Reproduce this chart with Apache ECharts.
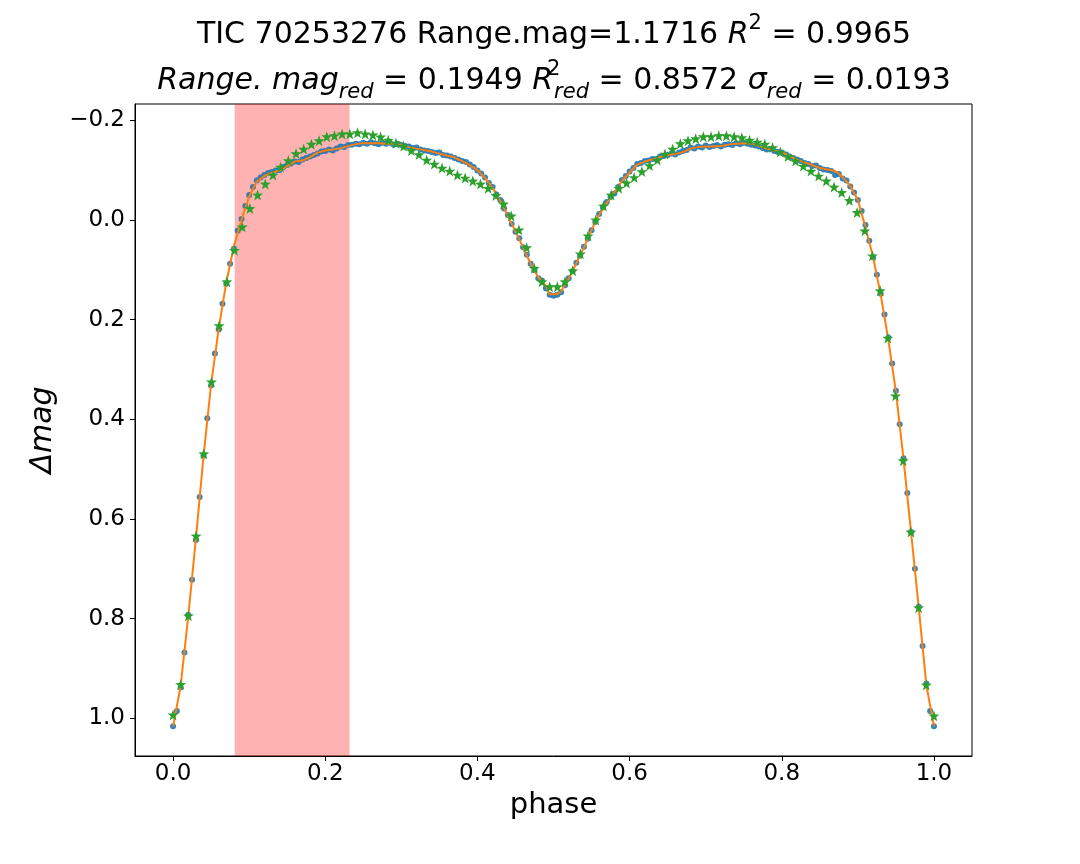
<!DOCTYPE html>
<html><head><meta charset="utf-8">
<script src="https://cdn.jsdelivr.net/npm/echarts@6/dist/echarts.min.js"></script>
<style>html,body{margin:0;padding:0;background:#fff}#c{width:1080px;height:864px}</style>
</head><body><div id="c"></div>
<script>
// ---- data ----
const xTicks = [0.0, 0.2, 0.4, 0.6, 0.8, 1.0];
const yTicks = [-0.2, 0.0, 0.2, 0.4, 0.6, 0.8, 1.0];
const bandPhase = [0.081, 0.232];

// observed points (blue), phase step 0.005
const obsPhase = [];
for (let i = 0; i <= 200; i++) obsPhase.push(+(i * 0.005).toFixed(3));
const obsMag = [
 1.016,0.985,0.938,0.868,0.792,0.722,0.642,0.556,0.473,0.398,
 0.332,0.268,0.220,0.168,0.128,0.088,0.058,0.022,-0.002,-0.028,
 -0.050,-0.066,-0.079,-0.085,-0.090,-0.094,-0.096,-0.099,-0.100,-0.106,
 -0.110,-0.113,-0.117,-0.116,-0.121,-0.124,-0.127,-0.130,-0.133,-0.137,
 -0.138,-0.141,-0.139,-0.143,-0.147,-0.146,-0.150,-0.151,-0.153,-0.152,
 -0.155,-0.153,-0.156,-0.154,-0.152,-0.155,-0.153,-0.155,-0.151,-0.153,
 -0.150,-0.148,-0.147,-0.144,-0.145,-0.141,-0.139,-0.138,-0.136,-0.134,
 -0.135,-0.130,-0.129,-0.127,-0.124,-0.121,-0.118,-0.116,-0.111,-0.106,
 -0.099,-0.093,-0.085,-0.074,-0.066,-0.051,-0.040,-0.023,-0.010,0.008,
 0.024,0.037,0.055,0.070,0.088,0.101,0.117,0.122,0.137,0.150,
 0.152,0.150,0.145,0.131,0.117,0.103,0.086,0.072,0.054,0.038,
 0.021,0.004,-0.012,-0.025,-0.036,-0.046,-0.053,-0.066,-0.080,-0.088,
 -0.097,-0.104,-0.112,-0.114,-0.118,-0.119,-0.122,-0.122,-0.127,-0.128,
 -0.130,-0.133,-0.131,-0.135,-0.138,-0.140,-0.145,-0.143,-0.147,-0.145,
 -0.149,-0.146,-0.148,-0.150,-0.147,-0.151,-0.152,-0.150,-0.154,-0.152,
 -0.155,-0.153,-0.151,-0.149,-0.147,-0.144,-0.141,-0.142,-0.138,-0.136,
 -0.135,-0.131,-0.127,-0.124,-0.121,-0.118,-0.114,-0.112,-0.108,-0.109,
 -0.104,-0.101,-0.100,-0.098,-0.090,-0.092,-0.083,-0.079,-0.067,-0.055,
 -0.040,-0.018,0.010,0.042,0.075,0.110,0.148,0.190,0.236,0.288,
 0.343,0.410,0.478,0.548,0.626,0.700,0.776,0.855,0.930,0.985,
 1.016
];

// fitted curve (orange)
const fitPhase = [
 0.00,0.01,0.02,0.03,0.04,0.05,0.06,0.07,0.08,0.09,
 0.10,0.11,0.12,0.13,0.14,0.15,0.16,0.17,0.18,0.19,
 0.20,0.21,0.22,0.23,0.24,0.25,0.26,0.27,0.28,0.29,
 0.30,0.31,0.32,0.33,0.34,0.35,0.36,0.37,0.38,0.39,
 0.40,0.41,0.42,0.43,0.44,0.45,0.46,0.47,0.48,0.49,
 0.495,0.505,0.51,0.52,0.53,0.54,0.55,0.56,0.57,0.58,
 0.59,0.60,0.61,0.62,0.63,0.64,0.65,0.66,0.67,0.68,
 0.69,0.70,0.71,0.72,0.73,0.74,0.75,0.76,0.77,0.78,
 0.79,0.80,0.81,0.82,0.83,0.84,0.85,0.86,0.87,0.88,
 0.89,0.90,0.91,0.92,0.93,0.94,0.95,0.96,0.97,0.98,
 0.99,1.00
];
const fitMag = [
 1.016,0.935,0.795,0.640,0.475,0.330,0.218,0.125,0.053,0.000,
 -0.047,-0.077,-0.088,-0.095,-0.099,-0.108,-0.117,-0.119,-0.126,-0.135,
 -0.139,-0.141,-0.144,-0.148,-0.152,-0.154,-0.154,-0.154,-0.153,-0.153,
 -0.151,-0.146,-0.143,-0.140,-0.137,-0.133,-0.129,-0.125,-0.118,-0.110,
 -0.100,-0.084,-0.064,-0.038,-0.008,0.023,0.055,0.088,0.115,0.132,
 0.149,0.149,0.143,0.118,0.087,0.055,0.020,-0.010,-0.034,-0.055,
 -0.078,-0.095,-0.111,-0.117,-0.121,-0.126,-0.130,-0.132,-0.136,-0.143,
 -0.146,-0.147,-0.147,-0.148,-0.151,-0.153,-0.154,-0.153,-0.148,-0.143,
 -0.139,-0.136,-0.128,-0.121,-0.115,-0.110,-0.104,-0.101,-0.098,-0.086,
 -0.068,-0.040,0.015,0.075,0.150,0.240,0.345,0.480,0.628,0.778,
 0.933,1.016
];

// reduced model (green stars), phase = k/99
const redMag = [
 0.993,0.932,0.794,0.634,0.469,0.325,0.212,0.124,0.061,0.014,
 -0.023,-0.050,-0.072,-0.090,-0.106,-0.119,-0.133,-0.142,-0.152,-0.159,
 -0.167,-0.169,-0.1725,-0.1725,-0.175,-0.1725,-0.1705,-0.1665,-0.160,-0.154,
 -0.148,-0.139,-0.131,-0.120,-0.112,-0.104,-0.098,-0.090,-0.084,-0.078,
 -0.072,-0.0635,-0.049,-0.032,-0.008,0.020,0.0555,0.097,0.124,0.134,
 0.134,0.124,0.102,0.068,0.032,0.000,-0.028,-0.050,-0.0635,-0.074,
 -0.085,-0.097,-0.109,-0.120,-0.132,-0.142,-0.153,-0.159,-0.163,-0.167,
 -0.167,-0.169,-0.169,-0.167,-0.165,-0.160,-0.156,-0.152,-0.145,-0.136,
 -0.127,-0.118,-0.108,-0.098,-0.088,-0.078,-0.066,-0.055,-0.039,-0.015,
 0.022,0.072,0.142,0.237,0.353,0.483,0.626,0.778,0.933,0.995
];
const redPhase = redMag.map((_, k) => k / 99);

// ---- chart ----
const FONT = 'DejaVu Sans';
const obsData = obsPhase.map((p, i) => [p, obsMag[i]]);
const fitData = fitPhase.map((p, i) => [p, fitMag[i]]);
const redData = redPhase.map((p, i) => [p, redMag[i]]);
const star = 'path://M0,-10 L2.35,-3.24 L9.51,-3.09 L3.8,1.24 L5.88,8.09 L0,4 L-5.88,8.09 L-3.8,1.24 L-9.51,-3.09 L-2.35,-3.24 Z';

const base = {fontFamily: FONT, fontSize: 30, fontWeight: 'normal', color: '#000', lineHeight: 44};
const rich = {
  n: Object.assign({}, base),
  i: Object.assign({}, base, {fontStyle: 'italic'}),
  sup: {fontFamily: FONT, fontSize: 21, fontWeight: 'normal', color: '#000', lineHeight: 24, verticalAlign: 'top'},
  sup0: {fontFamily: FONT, fontSize: 21, fontWeight: 'normal', color: '#000', lineHeight: 12, verticalAlign: 'top', width: 1},
  sub: {fontFamily: FONT, fontSize: 21, fontWeight: 'normal', color: '#000', lineHeight: 24, verticalAlign: 'bottom', fontStyle: 'italic'}
};
const fmt = v => (v < 0 ? '\u2212' : '') + Math.abs(v).toFixed(1);

const chart = echarts.init(document.getElementById('c'), null, {renderer: 'canvas'});
chart.setOption({
  backgroundColor: '#fff',
  animation: false,
  title: [
    {text: '{n|TIC 70253276 Range.mag=1.1716 }{i|R}{sup|2}{n| = 0.9965}',
     left: 554, top: 13, textAlign: 'center', padding: 0,
     textStyle: {fontWeight: 'normal', fontFamily: FONT, fontSize: 30, rich}},
    {text: '{i|Range. mag}{sub|red}{n| = 0.1949 }{i|R}{sup0|2}{sub|red}{n| = 0.8572 }{i|σ}{sub|red}{n| = 0.0193}',
     left: 554, top: 59, textAlign: 'center', padding: 0,
     textStyle: {fontWeight: 'normal', fontFamily: FONT, fontSize: 30, rich}}
  ],
  grid: {left: 135, right: 108, top: 104, bottom: 108, show: true, borderColor: '#000', borderWidth: 1, backgroundColor: 'transparent'},
  xAxis: {
    type: 'value', min: -0.05, max: 1.05,
    name: 'phase', nameLocation: 'middle', nameGap: 32,
    nameTextStyle: {fontFamily: FONT, fontSize: 29, color: '#000'},
    axisLine: {show: true, onZero: false, lineStyle: {color: '#000', width: 1}},
    axisTick: {show: true, length: 5, lineStyle: {color: '#000'}, customValues: xTicks},
    axisLabel: {fontFamily: FONT, fontSize: 23, color: '#000', margin: 7, formatter: fmt, customValues: xTicks},
    splitLine: {show: false}
  },
  yAxis: {
    type: 'value', inverse: true, min: -0.2325, max: 1.0755,
    name: 'Δmag', nameLocation: 'middle', nameGap: 73, nameRotate: 90,
    nameTextStyle: {fontFamily: FONT, fontSize: 30, color: '#000', fontStyle: 'italic'},
    axisLine: {show: true, onZero: false, lineStyle: {color: '#000', width: 1}},
    axisTick: {show: true, length: 5, lineStyle: {color: '#000'}, customValues: yTicks},
    axisLabel: {fontFamily: FONT, fontSize: 23, color: '#000', margin: 10, formatter: fmt, customValues: yTicks},
    splitLine: {show: false}
  },
  series: [
    {type: 'line', data: [], z: 1, silent: true,
     markArea: {silent: true, itemStyle: {color: 'rgba(255,0,0,0.3)'},
       data: [[{xAxis: bandPhase[0]}, {xAxis: bandPhase[1]}]]}},
    {type: 'scatter', data: obsData, z: 2, symbol: 'circle', symbolSize: 6,
     itemStyle: {color: '#1f77b4', opacity: 0.9}},
    {type: 'line', data: fitData, z: 3, showSymbol: false, symbol: 'none',
     lineStyle: {color: '#ff7f0e', width: 2}},
    {type: 'scatter', data: redData, z: 4, symbol: star, symbolSize: 11,
     itemStyle: {color: '#2ca02c', opacity: 1}}
  ]
});
</script>
</body></html>
